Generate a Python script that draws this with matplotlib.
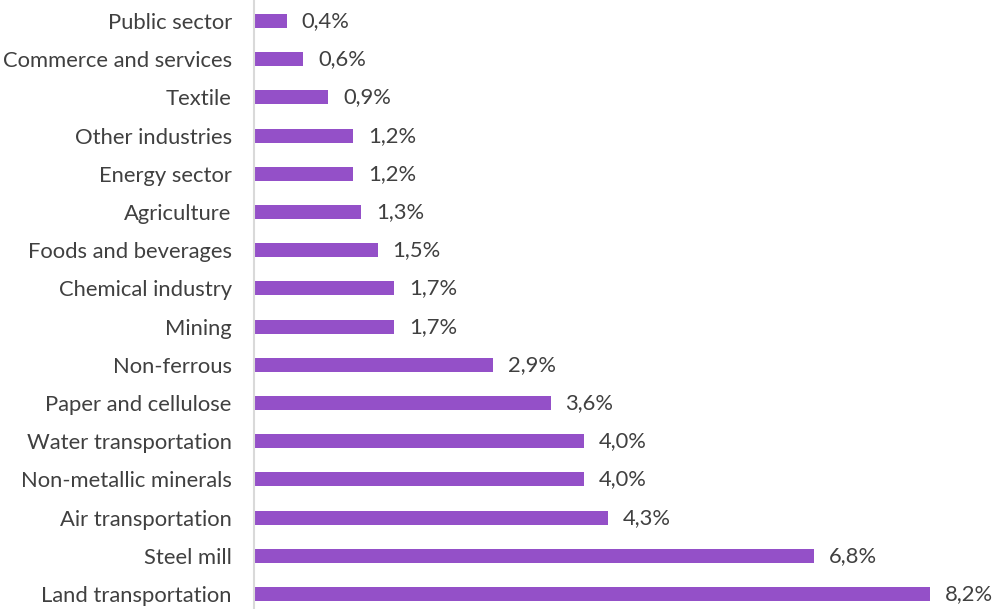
import matplotlib
matplotlib.use("Agg")
import matplotlib.pyplot as plt

plt.rcParams['font.family'] = ['Lato', 'DejaVu Sans']

# sectors listed bottom to top
sectors = ["Land transportation", "Steel mill", "Air transportation", "Non-metallic minerals",
           "Water transportation", "Paper and cellulose", "Non-ferrous", "Mining",
           "Chemical industry", "Foods and beverages", "Agriculture", "Energy sector",
           "Other industries", "Textile", "Commerce and services", "Public sector"]
shares = [8.2, 6.8, 4.3, 4.0, 4.0, 3.6, 2.9, 1.7, 1.7, 1.5, 1.3, 1.2, 1.2, 0.9, 0.6, 0.4]

bar_color = '#9450C8'
text_color = '#404040'

fig = plt.figure(figsize=(9.93, 6.09), dpi=100)
ax = fig.add_axes([254 / 993, 0, 1 - 254 / 993, 1])

ypos = list(range(len(sectors)))
ax.barh(ypos, shares, height=0.37, color=bar_color)

px_per_unit = 82.4
ax.set_xlim(0, (993 - 254) / px_per_unit)
ax.set_ylim(-15 / 38.2, 15 + 21 / 38.2)

for y, v in zip(ypos, shares):
    ax.text(v + 0.18, y, f"{v:.1f}%".replace('.', ','), va='center', ha='left',
            fontsize=15.8, color=text_color)

ax.set_yticks(ypos)
ax.set_yticklabels(sectors, fontsize=15.8, color=text_color)
ax.tick_params(axis='y', length=0, pad=16)
ax.set_xticks([])

for s in ['top', 'right', 'bottom']:
    ax.spines[s].set_visible(False)
ax.spines['left'].set_color('#D9D9D9')
ax.spines['left'].set_linewidth(1.5)

fig.savefig("out.png", dpi=100)
